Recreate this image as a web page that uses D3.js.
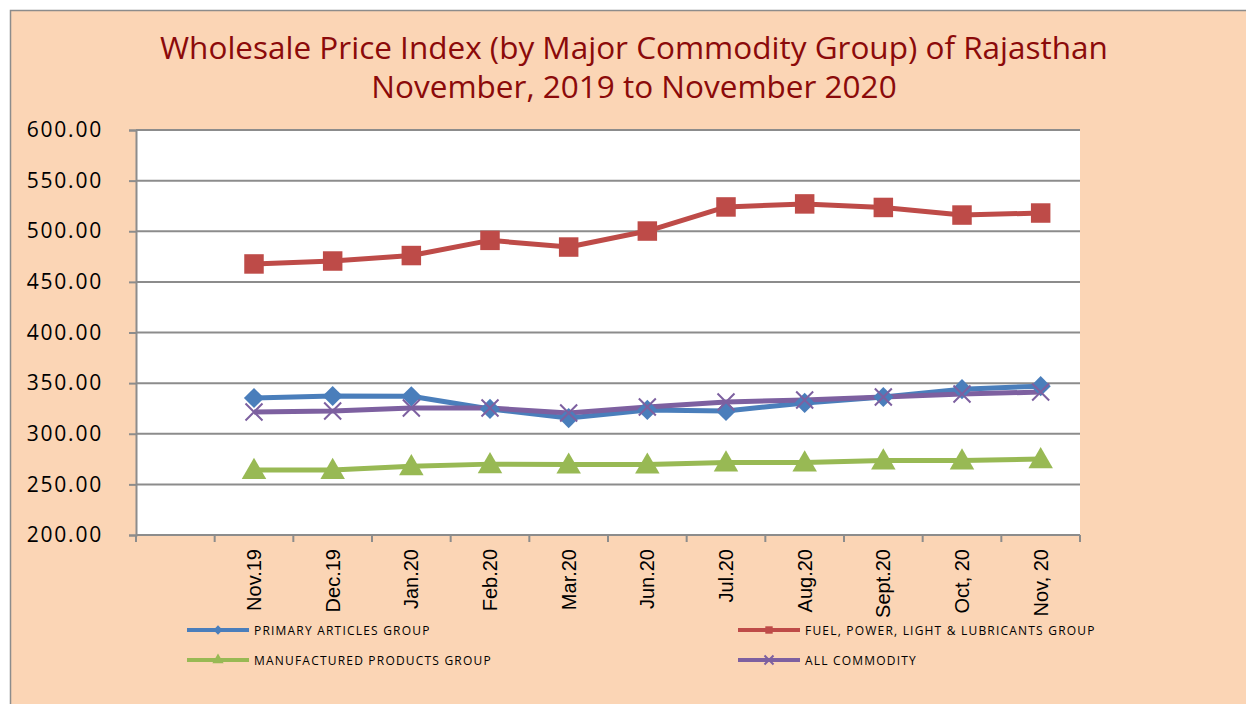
<!DOCTYPE html>
<html>
<head>
<meta charset="utf-8">
<script src="https://cdn.jsdelivr.net/npm/d3@7"></script>
<style>
  body { margin: 0; background: #ffffff; }
  svg { display: block; }
</style>
</head>
<body>
<div id="chart"></div>
<script>
// data (first slot of the axis is blank)
var categories = ['', 'Nov.19', 'Dec.19', 'Jan.20', 'Feb.20', 'Mar.20', 'Jun.20', 'Jul.20', 'Aug.20', 'Sept.20', 'Oct, 20', 'Nov, 20'];
var primaryArticles = [null, 335.3, 337.3, 337.0, 324.5, 315.5, 323.5, 322.5, 330.4, 336.3, 344.0, 347.0];
var fuelPower = [null, 467.7, 470.6, 476.0, 491.0, 484.4, 500.2, 524.0, 527.0, 523.5, 516.0, 518.0];
var manufactured = [null, 264.2, 264.2, 268.0, 270.0, 269.6, 269.6, 271.6, 271.6, 273.6, 273.6, 275.0];
var allCommodity = [null, 321.5, 322.5, 325.4, 325.4, 320.5, 326.4, 331.4, 333.3, 336.3, 339.3, 341.2];
var yTicks = [200, 250, 300, 350, 400, 450, 500, 550, 600];

var w = 1246, h = 704;
var plotLeft = 136, plotRight = 1080, plotTop = 130, plotBottom = 535;

var series = [
  {name: 'PRIMARY ARTICLES GROUP', values: primaryArticles, color: '#4A7EBB', marker: 'diamond'},
  {name: 'FUEL, POWER, LIGHT & LUBRICANTS GROUP', values: fuelPower, color: '#BE4B48', marker: 'square'},
  {name: 'MANUFACTURED PRODUCTS GROUP', values: manufactured, color: '#98B954', marker: 'triangle'},
  {name: 'ALL COMMODITY', values: allCommodity, color: '#7D60A0', marker: 'cross'}
];

var svg = d3.select('#chart')
  .append('svg')
  .attr('width', w)
  .attr('height', h);

// peach panel
svg.append('rect')
  .attr('x', 10.5).attr('y', 10.5)
  .attr('width', w).attr('height', h)
  .attr('fill', '#FBD5B5')
  .attr('stroke', '#8c8c8c')
  .attr('stroke-width', 1.5);

// plot background
svg.append('rect')
  .attr('x', plotLeft).attr('y', plotTop)
  .attr('width', plotRight - plotLeft).attr('height', plotBottom - plotTop)
  .attr('fill', '#ffffff');

var x = d3.scaleBand()
  .domain(categories)
  .range([plotLeft, plotRight]);

var y = d3.scaleLinear()
  .domain([200, 600])
  .range([plotBottom, plotTop]);

// gridlines
svg.append('g')
  .selectAll('line')
  .data(yTicks)
  .enter()
  .append('line')
  .attr('x1', plotLeft).attr('x2', plotRight)
  .attr('y1', function(d) { return y(d); })
  .attr('y2', function(d) { return y(d); })
  .attr('stroke', '#8c8c8c')
  .attr('stroke-width', 2);

// y axis
var yAxis = svg.append('g')
  .attr('transform', 'translate(' + plotLeft + ',0)')
  .call(d3.axisLeft(y).tickValues(yTicks).tickSize(7).tickPadding(26)
    .tickFormat(function(d) { return d3.format('.2f')(d); }));
yAxis.select('.domain').attr('stroke', '#8c8c8c').attr('stroke-width', 2);
yAxis.selectAll('.tick line').attr('stroke', '#8c8c8c').attr('stroke-width', 2);
yAxis.selectAll('.tick text')
  .attr('fill', '#000')
  .style('font-family', '"Open Sans", sans-serif')
  .style('font-size', '21px')
  .style('letter-spacing', '1.8px');

// x axis, ticks between the categories
var xAxis = svg.append('g')
  .attr('transform', 'translate(0,' + plotBottom + ')');
xAxis.append('line')
  .attr('x1', plotLeft).attr('x2', plotRight)
  .attr('stroke', '#8c8c8c').attr('stroke-width', 2);
xAxis.selectAll('line.tk')
  .data(categories.concat(['end']))
  .enter()
  .append('line')
  .attr('class', 'tk')
  .attr('x1', function(d, i) { return plotLeft + i * x.step(); })
  .attr('x2', function(d, i) { return plotLeft + i * x.step(); })
  .attr('y1', 0).attr('y2', 7)
  .attr('stroke', '#8c8c8c').attr('stroke-width', 2);
xAxis.selectAll('text')
  .data(categories)
  .enter()
  .append('text')
  .attr('transform', function(d) {
    return 'translate(' + (x(d) + x.bandwidth() / 2 + 7) + ',14) rotate(-90)';
  })
  .attr('text-anchor', 'end')
  .style('font-family', '"Liberation Sans", Arial, sans-serif')
  .style('font-size', '20px')
  .text(function(d) { return d; });

// lines
var line = d3.line()
  .defined(function(d) { return d != null; })
  .x(function(d, i) { return x(categories[i]) + x.bandwidth() / 2; })
  .y(function(d) { return y(d); });

function markerPath(type) {
  if (type === 'diamond') return d3.symbol().type(d3.symbolDiamond2).size(260)();
  if (type === 'square') return d3.symbol().type(d3.symbolSquare).size(380)();
  if (type === 'triangle') return d3.symbol().type(d3.symbolTriangle).size(260)();
  return d3.symbol().type(d3.symbolTimes).size(190)();
}

series.forEach(function(s) {
  svg.append('path')
    .datum(s.values)
    .attr('d', line)
    .attr('fill', 'none')
    .attr('stroke', s.color)
    .attr('stroke-width', 5)
    .attr('stroke-linejoin', 'round');
});

series.forEach(function(s) {
  var pts = s.values.map(function(v, i) { return {v: v, c: categories[i]}; })
    .filter(function(d) { return d.v != null; });
  svg.append('g')
    .selectAll('path')
    .data(pts)
    .enter()
    .append('path')
    .attr('d', markerPath(s.marker))
    .attr('transform', function(d) {
      var ty = y(d.v) + (s.marker === 'triangle' ? 2 : 0);
      return 'translate(' + (x(d.c) + x.bandwidth() / 2) + ',' + ty + ')';
    })
    .attr('fill', s.marker === 'cross' ? 'none' : s.color)
    .attr('stroke', s.color)
    .attr('stroke-width', s.marker === 'cross' ? 2 : 0);
});

// title
var title = svg.append('text')
  .attr('text-anchor', 'middle')
  .attr('fill', '#8B0A0A')
  .style('font-family', '"Open Sans", sans-serif')
  .style('font-size', '31.5px');
title.append('tspan').attr('x', 634).attr('y', 59).text('Wholesale Price Index (by Major Commodity Group) of Rajasthan');
title.append('tspan').attr('x', 634).attr('y', 98).text('November, 2019 to November 2020');

// legend
var legendPos = [[187, 630], [738, 630], [187, 660], [738, 660]];
var legendSymbols = [d3.symbolDiamond2, d3.symbolSquare, d3.symbolTriangle, d3.symbolTimes];
series.forEach(function(s, i) {
  var g = svg.append('g')
    .attr('transform', 'translate(' + legendPos[i][0] + ',' + legendPos[i][1] + ')');
  g.append('line')
    .attr('x1', 0).attr('x2', 62)
    .attr('stroke', s.color).attr('stroke-width', 4);
  g.append('path')
    .attr('d', d3.symbol().type(legendSymbols[i]).size(55)())
    .attr('transform', 'translate(31,0)')
    .attr('fill', s.marker === 'cross' ? 'none' : s.color)
    .attr('stroke', s.color)
    .attr('stroke-width', s.marker === 'cross' ? 2 : 0);
  g.append('text')
    .attr('x', 67).attr('y', 4.5)
    .style('font-family', '"Open Sans", sans-serif')
    .style('font-size', '12px')
    .style('letter-spacing', '1.2px')
    .attr('fill', '#000')
    .text(s.name);
});
</script>
</body>
</html>
